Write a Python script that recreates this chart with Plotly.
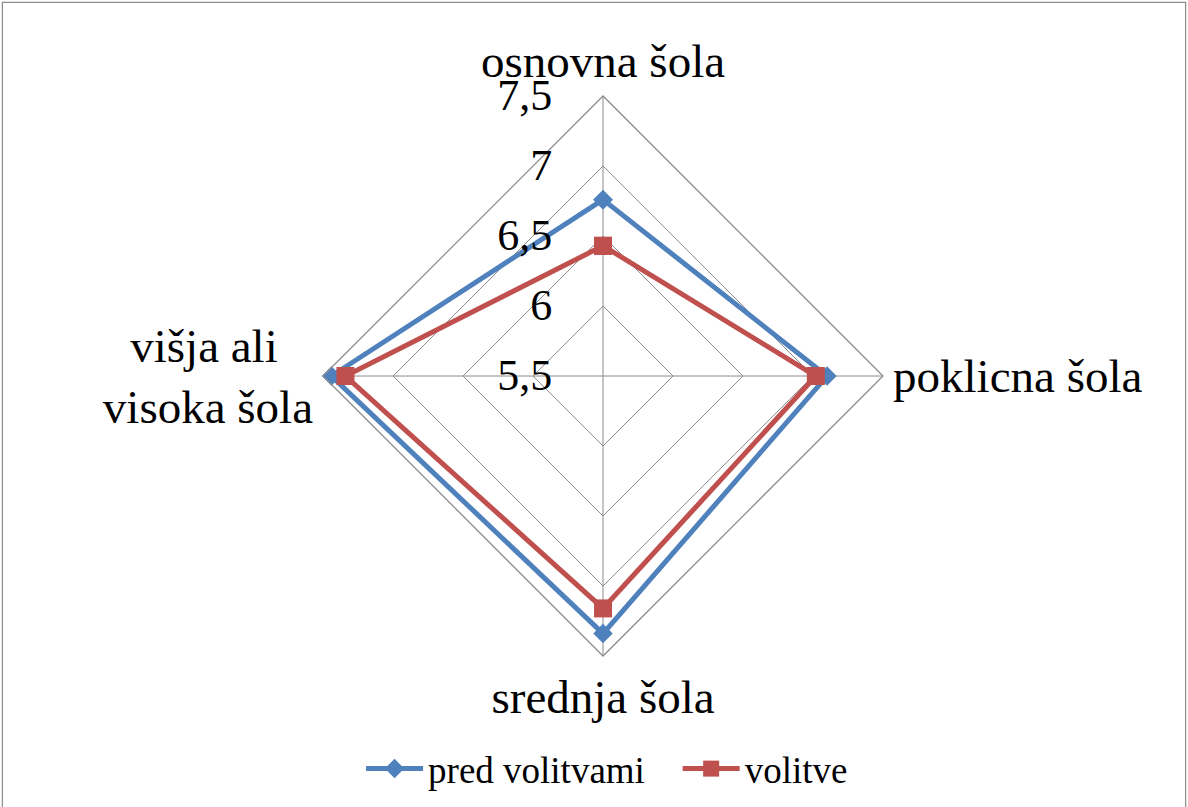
import plotly.graph_objects as go

categories = ["osnovna šola", "poklicna šola", "srednja šola",
              "višja ali\u00a0\u00a0\u00a0<br>visoka šola"]
pred_volitvami = [6.76, 7.10, 7.34, 7.44]
volitve = [6.43, 7.02, 7.16, 7.34]
radial_ticks = [5.5, 6, 6.5, 7, 7.5]

SERIF = "Liberation Serif, Times New Roman, serif"
GRID = "#8c8c8c"

fig = go.Figure()
fig.add_trace(go.Scatterpolar(
    r=pred_volitvami + pred_volitvami[:1],
    theta=categories + categories[:1],
    name="pred volitvami\u00a0\u00a0\u00a0",
    mode="lines+markers",
    line=dict(color="#4F81BD", width=5),
    marker=dict(symbol="diamond", size=15, color="#4F81BD"),
))
fig.add_trace(go.Scatterpolar(
    r=volitve + volitve[:1],
    theta=categories + categories[:1],
    name="volitve",
    mode="lines+markers",
    line=dict(color="#C0504D", width=5),
    marker=dict(symbol="square", size=18, color="#C0504D"),
))

fig.update_layout(
    width=1188, height=807,
    margin=dict(l=0, r=0, t=0, b=0),
    paper_bgcolor="white",
    separators=",.",
    font=dict(family=SERIF, color="black"),
    polar=dict(
        domain=dict(x=[0.2719, 0.7433], y=[0.1871, 0.8810]),
        gridshape="linear",
        bgcolor="white",
        radialaxis=dict(
            range=[5.5, 7.5], tickvals=radial_ticks, angle=90,
            tickangle=90,
            showline=False, gridcolor=GRID, gridwidth=1.3,
            ticks="outside", ticklen=35, tickcolor="rgba(0,0,0,0)",
            tickfont=dict(size=44, family=SERIF),
            side="counterclockwise",
        ),
        angularaxis=dict(
            direction="clockwise", rotation=90,
            linecolor=GRID, linewidth=1.3,
            gridcolor=GRID, gridwidth=1.3,
            tickfont=dict(size=47, family=SERIF),
            ticks="",
        ),
    ),
    legend=dict(
        orientation="h", x=0.511, xanchor="center", y=0.047, yanchor="middle",
        font=dict(size=37, family=SERIF),
        itemwidth=57,
    ),
    shapes=[dict(type="rect", xref="paper", yref="paper", x0=0.002, x1=0.998,
                 y0=-0.01, y1=0.997, line=dict(color="#8c8c8c", width=1.2))],
)

fig.write_html("out.html", config={"displayModeBar": False},
               post_script="document.body.style.margin='0';")
